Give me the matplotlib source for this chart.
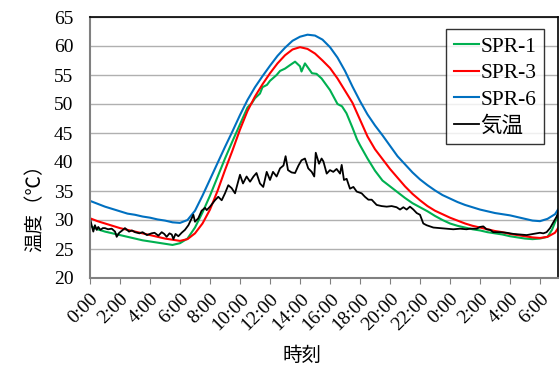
import matplotlib
matplotlib.use("Agg")
import matplotlib.pyplot as plt
import numpy as np

plt.rcParams['font.family'] = ['Liberation Serif', 'Noto Sans CJK JP']
plt.rcParams['font.size'] = 13

# hours from 0:00 of day 1
t_smooth = [0, 0.5, 1, 1.5, 2, 2.5, 3, 3.5, 4, 4.5, 5, 5.5, 6, 6.5, 7, 7.5, 8, 8.5,
            9, 9.5, 10, 10.5, 11, 11.5, 12, 12.5, 13, 13.5, 14, 14.5, 15, 15.5, 16,
            16.5, 17, 17.5, 18, 18.5, 19, 19.5, 20, 20.5, 21, 21.5, 22, 22.5, 23,
            23.5, 24, 24.5, 25, 25.5, 26, 26.5, 27, 27.5, 28, 28.5, 29, 29.5, 30,
            30.5, 31, 31.2]

spr6 = [33.3, 32.8, 32.3, 31.9, 31.5, 31.1, 30.9, 30.6, 30.4, 30.1, 29.9, 29.6, 29.5,
        30.0, 31.6, 34.2, 37.0, 39.8, 42.6, 45.3, 48.1, 50.7, 52.9, 54.8, 56.6, 58.3,
        59.7, 60.9, 61.6, 61.95, 61.8, 61.1, 59.8, 58.0, 55.7, 53.0, 50.5, 48.2, 46.3,
        44.6, 42.8, 41.0, 39.6, 38.2, 37.0, 36.0, 35.1, 34.3, 33.7, 33.1, 32.6, 32.2,
        31.8, 31.5, 31.2, 31.0, 30.8, 30.5, 30.2, 29.9, 29.8, 30.2, 31.0, 31.8]

spr3 = [30.3, 29.8, 29.4, 29.0, 28.6, 28.3, 28.0, 27.7, 27.4, 27.1, 26.8, 26.6, 26.4,
        26.7, 27.7, 29.4, 31.8, 35.0, 38.6, 42.0, 45.6, 48.8, 51.3, 53.4, 55.3, 57.0,
        58.4, 59.4, 59.8, 59.5, 58.7, 57.5, 56.2, 54.4, 52.3, 50.2, 47.3, 44.4, 42.2,
        40.5, 38.8, 37.3, 35.8, 34.5, 33.4, 32.4, 31.6, 31.0, 30.4, 29.9, 29.4, 29.0,
        28.7, 28.4, 28.1, 27.9, 27.6, 27.4, 27.2, 27.0, 26.9, 27.1, 27.8, 28.6]

t_spr1 = [0, 0.5, 1, 1.5, 2, 2.5, 3, 3.5, 4, 4.5, 5, 5.5, 6, 6.5, 7, 7.5, 8, 8.5, 9,
          9.5, 10, 10.5, 10.8, 11, 11.33, 11.5, 11.8, 12, 12.44, 12.67, 13, 13.33,
          13.67, 14.0, 14.1, 14.33, 14.8, 15.1, 15.44, 16.0, 16.5, 16.8, 17.1, 17.5,
          17.8, 18.0, 18.5, 19.0, 19.5, 20.0, 20.5, 21.0, 21.5, 22.0, 22.5, 23.0,
          23.5, 24.0, 24.5, 25, 25.5, 26, 26.5, 27, 27.5, 28, 28.5, 29, 29.5, 30,
          30.5, 30.8, 31.2]
spr1 = [29.0, 28.4, 28.0, 27.7, 27.4, 27.1, 26.8, 26.5, 26.3, 26.1, 25.9, 25.7, 26.0,
        26.8, 28.7, 31.3, 34.2, 37.4, 40.6, 43.6, 46.5, 49.4, 50.2, 51.0, 51.8, 52.9,
        53.3, 54.0, 55.0, 55.7, 56.1, 56.7, 57.3, 56.5, 55.6, 57.0, 55.3, 55.2, 54.4,
        52.4, 50.0, 49.6, 48.4, 45.9, 43.9, 42.9, 40.6, 38.5, 36.8, 35.8, 34.8, 33.8,
        32.9, 32.2, 31.5, 30.7, 30.0, 29.4, 29.0, 28.7, 28.4, 28.2, 27.9, 27.7, 27.5,
        27.2, 27.0, 26.8, 26.7, 26.8, 27.1, 28.3, 30.9]

t_air = [0, 0.1, 0.22, 0.33, 0.45, 0.55, 0.7, 0.85, 1.0, 1.2, 1.45, 1.67, 1.78, 1.95,
         2.15, 2.33, 2.6, 2.8, 3.0, 3.3, 3.5, 3.8, 4.1, 4.3, 4.56, 4.78, 4.95, 5.11,
         5.3, 5.45, 5.56, 5.7, 5.89, 6.11, 6.33, 6.56, 6.78, 6.89, 7.0, 7.22, 7.44,
         7.67, 7.78, 8.0, 8.33, 8.55, 8.78, 9.0, 9.22, 9.44, 9.67, 9.78, 10.0, 10.2,
         10.44, 10.67, 10.9, 11.1, 11.33, 11.55, 11.78, 12.0, 12.2, 12.44, 12.67,
         12.9, 13.04, 13.2, 13.44, 13.67, 13.9, 14.1, 14.33, 14.55, 14.78, 14.95,
         15.05, 15.27, 15.44, 15.56, 15.78, 16.0, 16.22, 16.44, 16.67, 16.78, 16.93,
         17.11, 17.33, 17.56, 17.78, 18.11, 18.33, 18.56, 18.78, 19.11, 19.44, 19.78,
         20.11, 20.44, 20.67, 20.89, 21.11, 21.33, 21.56, 21.78, 22.0, 22.22, 22.44,
         22.89, 23.33, 23.78, 24.22, 24.67, 25.1, 25.33, 25.78, 26.0, 26.22, 26.44,
         26.67, 26.89, 27.33, 27.78, 28.22, 28.67, 29.11, 29.56, 30.0, 30.22, 30.44,
         30.67, 30.89, 31.11, 31.2]
air = [30.3, 29.2, 28.0, 29.1, 28.3, 28.8, 28.3, 28.6, 28.6, 28.4, 28.5, 28.0, 27.1,
       27.8, 28.2, 28.6, 28.0, 28.2, 27.9, 27.7, 27.9, 27.4, 27.7, 27.8, 27.3, 27.9,
       27.6, 27.1, 27.7, 27.5, 26.7, 27.6, 27.2, 27.8, 28.3, 29.1, 30.3, 30.9, 29.7,
       30.3, 31.6, 32.1, 31.7, 32.3, 33.4, 34.0, 33.4, 34.6, 36.0, 35.5, 34.6, 35.7,
       37.8, 36.3, 37.5, 36.6, 37.5, 38.1, 36.3, 35.7, 38.3, 36.9, 38.3, 37.5, 38.9,
       39.4, 41.0, 38.6, 38.2, 38.1, 39.4, 40.3, 40.6, 38.9, 38.3, 37.5, 41.6, 39.7,
       40.6, 40.1, 38.0, 38.6, 38.3, 38.8, 38.0, 39.5, 36.9, 37.1, 35.4, 35.7, 34.9,
       34.6, 34.0, 33.5, 33.5, 32.6, 32.4, 32.3, 32.4, 32.2, 31.8, 32.2, 31.8, 32.3,
       31.8, 31.2, 30.9, 29.4, 29.1, 28.7, 28.6, 28.5, 28.4, 28.5, 28.4, 28.5, 28.5,
       28.8, 28.9, 28.4, 28.3, 27.9, 27.9, 27.8, 27.6, 27.5, 27.4, 27.6, 27.8, 27.7,
       27.9, 28.6, 29.6, 30.6, 31.2]

tick_hours = [0, 2, 4, 6, 8, 10, 12, 14, 16, 18, 20, 22, 24, 26, 28, 30]
tick_labels = ['0:00', '2:00', '4:00', '6:00', '8:00', '10:00', '12:00', '14:00',
               '16:00', '18:00', '20:00', '22:00', '0:00', '2:00', '4:00', '6:00']

fig = plt.figure(figsize=(5.6, 3.65), dpi=100)
ax = fig.add_axes([90 / 560, 1 - 278 / 365, 468 / 560, 261 / 365])

ax.plot(t_spr1, spr1, color='#00b050', lw=1.5, label='SPR-1')
ax.plot(t_smooth, spr3, color='#ff0000', lw=1.5, label='SPR-3')
ax.plot(t_smooth, spr6, color='#0070c0', lw=1.5, label='SPR-6')
ax.plot(t_air, air, color='black', lw=1.3, label='気温')

ax.set_xlim(0, 31.2)
ax.set_ylim(20, 65)
ax.set_yticks(np.arange(20, 66, 5))
ax.set_xticks(tick_hours)
ax.set_xticklabels(tick_labels, rotation=45, ha='right', va='top',
                   rotation_mode='anchor')
ax.yaxis.grid(True, color='#b0b0b0', lw=1)
ax.set_axisbelow(True)

for s in ['top', 'right']:
    ax.spines[s].set_color('black')
    ax.spines[s].set_linewidth(1.2)
for s in ['left', 'bottom']:
    ax.spines[s].set_color('#808080')
    ax.spines[s].set_linewidth(1.5)
ax.tick_params(axis='x', direction='out', length=4, color='#808080', pad=5)
ax.tick_params(axis='y', direction='out', length=0, pad=12, labelsize=14)
ax.tick_params(axis='x', labelsize=14)

fig.text(35 / 560, 1 - 203 / 365, '温度（℃）', rotation=90, ha='center', va='center',
         fontsize=14, family=['Noto Sans CJK JP'])
fig.text(302 / 560, 1 - 355 / 365, '時刻', ha='center', va='center', fontsize=14,
         family=['Noto Sans CJK JP'])

leg = ax.legend(loc='upper left', bbox_to_anchor=(446 / 560, 1 - 29 / 365),
                bbox_transform=fig.transFigure, frameon=True, fancybox=False,
                handlelength=1.2, handletextpad=0.05, borderpad=0.35,
                labelspacing=0.3, borderaxespad=0, fontsize=15.5)
leg.get_frame().set_edgecolor('black')
leg.get_frame().set_linewidth(1.0)

fig.savefig('out.png', dpi=100)
